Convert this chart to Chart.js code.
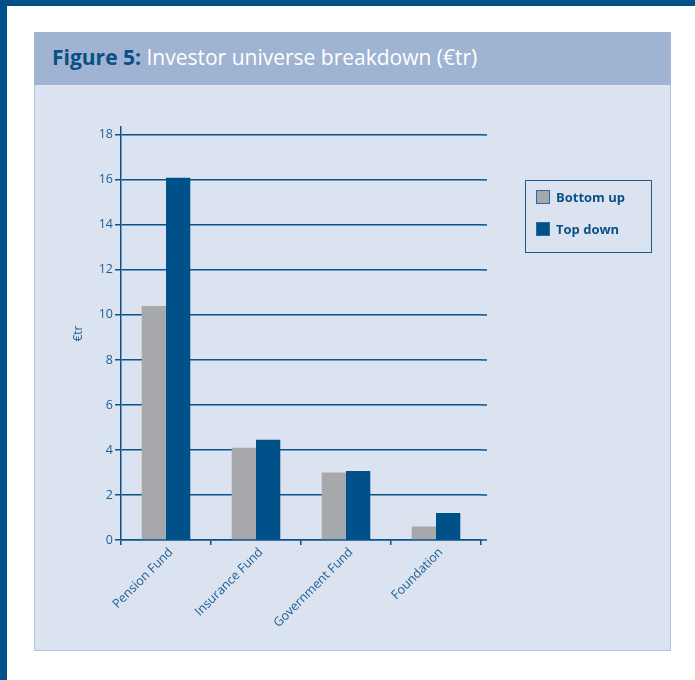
<!DOCTYPE html>
<html>
<head>
<meta charset="utf-8">
<script src="https://cdn.jsdelivr.net/npm/chart.js@4.4.0/dist/chart.umd.min.js"></script>
<style>
html,body{margin:0;padding:0;}
body{width:695px;height:680px;position:relative;background:#fff;overflow:hidden;font-family:"Open Sans",sans-serif;}
#topbar{position:absolute;left:0;top:0;width:695px;height:6px;background:#00508a;}
#leftbar{position:absolute;left:0;top:0;width:7px;height:680px;background:#00508a;}
#head{position:absolute;left:34px;top:32px;width:637px;height:53px;background:#9fb3d2;}
#head h1{margin:0;position:absolute;left:18px;top:11px;font-size:21px;font-weight:normal;color:#fff;white-space:nowrap;}
#head h1 b{color:#0b4f85;font-weight:bold;}
#panel{position:absolute;left:34px;top:85px;width:635px;height:565px;background:#dbe3f0;border:1px solid #b4c4dd;border-top:none;}
#chartWrap{position:absolute;left:0;top:0;width:695px;height:680px;}
#legend{position:absolute;left:525px;top:180px;width:125px;height:71px;border:1px solid #1d5b93;}
.item{position:absolute;left:10px;font-size:13px;font-weight:bold;color:#0b4f85;line-height:16px;}
.item i{display:inline-block;width:14px;height:14px;border:1px solid #2e6a9c;vertical-align:-2px;margin-right:6px;box-sizing:border-box;}
</style>
</head>
<body>
<div id="topbar"></div>
<div id="leftbar"></div>
<div id="head"><h1><b>Figure 5:</b> Investor universe breakdown (€tr)</h1></div>
<div id="panel"></div>
<div id="chartWrap"><canvas id="chart" width="695" height="680"></canvas></div>
<div id="legend"></div>
<script>
const categories = ['Pension Fund', 'Insurance Fund', 'Government Fund', 'Foundation'];
const bottomUp = [10.4, 4.1, 3.0, 0.6];
const topDown = [16.1, 4.45, 3.07, 1.2];
const seriesNames = ['Bottom up', 'Top down'];
const seriesColors = ['#a7a8ac', '#00508a'];
const yMax = 18;
const yStep = 2;

const axisBlue = '#0d5189';
const labelBlue = '#1d5f97';

// draws the small overhang of the horizontal gridlines past the last category
const gridOverhang = {
    id: 'gridOverhang',
    afterDraw(chart){
        const ctx = chart.ctx;
        const y = chart.scales.y;
        const right = chart.chartArea.right;
        ctx.save();
        ctx.strokeStyle = axisBlue;
        ctx.lineWidth = 1.5;
        y.ticks.forEach(t => {
            const py = y.getPixelForValue(t.value);
            ctx.beginPath();
            ctx.moveTo(right, py);
            ctx.lineTo(right + 6, py);
            ctx.stroke();
        });
        ctx.restore();
    }
};

const ctx = document.getElementById('chart').getContext('2d');
const chart = new Chart(ctx, {
    type: 'bar',
    data: {
        labels: categories,
        datasets: [
            { label: seriesNames[0], data: bottomUp, backgroundColor: seriesColors[0] },
            { label: seriesNames[1], data: topDown, backgroundColor: seriesColors[1] }
        ]
    },
    options: {
        responsive: false,
        animation: false,
        devicePixelRatio: 1,
        categoryPercentage: 0.54,
        barPercentage: 1,
        layout: { padding: { left: 62, top: 127, right: 214, bottom: 40 } },
        plugins: { legend: { display: false }, tooltip: { enabled: false } },
        scales: {
            x: {
                afterFit: s => { s.height = 100; },
                grid: { drawOnChartArea: false, color: axisBlue, lineWidth: 1.5, tickLength: 5, tickColor: axisBlue },
                border: { color: axisBlue, width: 1.5 },
                ticks: {
                    minRotation: 45, maxRotation: 45, padding: 0, labelOffset: 5,
                    color: labelBlue,
                    font: { family: '"Open Sans", sans-serif', size: 12.5 }
                }
            },
            y: {
                min: 0,
                max: yMax + 0.35,
                afterFit: s => { s.width = 59; },
                grid: { color: axisBlue, lineWidth: 1.5, tickLength: 6, tickColor: axisBlue },
                border: { color: axisBlue, width: 1.5 },
                ticks: {
                    stepSize: yStep,
                    includeBounds: false,
                    padding: 2,
                    color: labelBlue,
                    font: { family: '"Open Sans", sans-serif', size: 12.5 }
                },
                title: {
                    display: true,
                    text: '€tr',
                    color: labelBlue,
                    padding: { top: 9, bottom: 0 },
                    font: { family: '"Open Sans", sans-serif', size: 12 }
                }
            }
        }
    },
    plugins: [gridOverhang]
});

// html legend built from datasets
const legendEl = document.getElementById('legend');
chart.data.datasets.forEach((ds, i) => {
    const it = document.createElement('div');
    it.className = 'item';
    it.style.top = (8 + i * 32) + 'px';
    it.innerHTML = '<i style="background:' + ds.backgroundColor + '"></i>' + ds.label;
    legendEl.appendChild(it);
});
</script>
</body>
</html>
